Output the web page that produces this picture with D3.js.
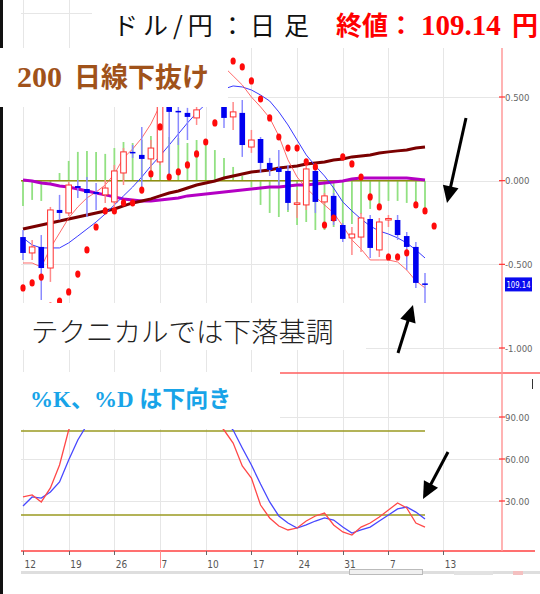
<!DOCTYPE html>
<html><head><meta charset="utf-8">
<script src="https://cdn.jsdelivr.net/npm/d3@7"></script>
<style>body{margin:0;background:#fff;} svg{display:block;}</style>
</head><body>
<svg id="c" width="540" height="594"></svg>
<script>
// ---------- data ----------
const tickIdx    = [0,5,10,15,20,25,30,35,40,46];
const tickLabels = ["12","19","26","7","10","17","24","31","7","13"];
const mainTicks  = [1,0.5,0,-0.5,-1];
const mainTickLabels = ["","0.500","0.000","-0.500","-1.000"];
const stochTicks = [90,60,30];
const stochTickLabels = ["90.00","60.00","30.00"];
const lastPriceLabel = "109.14";

const open  = [-0.337,-0.432,-0.396,-0.522,-0.175,-0.193,-0.032,-0.050,-0.068,-0.085,-0.127,0.046,0.172,0.154,0.130,0.112,0.482,0.417,0.405,0.375,0.482,0.572,0.494,0.381,0.405,0.201,0.249,0.106,0.076,0.058,-0.139,-0.145,0.058,-0.127,-0.091,-0.265,-0.342,-0.337,-0.229,-0.414,-0.232,-0.235,-0.331,-0.396,-0.614];
const high  = [-0.295,-0.354,-0.325,-0.157,-0.085,-0.008,0.004,0.022,-0.014,0.004,0.094,0.195,0.213,0.321,0.243,0.542,0.512,0.452,0.435,0.452,0.620,0.602,0.524,0.470,0.482,0.303,0.261,0.136,0.183,0.094,-0.056,0.094,0.094,-0.074,-0.074,-0.253,-0.277,-0.193,-0.205,-0.223,-0.205,-0.205,-0.307,-0.366,-0.552];
const low   = [-0.474,-0.474,-0.713,-0.605,-0.235,-0.211,-0.103,-0.217,-0.175,-0.133,-0.175,-0.026,0.136,-0.056,0.034,0.094,0.034,0.213,0.243,0.333,0.458,0.458,0.315,0.303,0.142,0.166,0.046,0.028,-0.026,-0.175,-0.223,-0.175,-0.193,-0.139,-0.265,-0.366,-0.444,-0.426,-0.462,-0.456,-0.277,-0.354,-0.534,-0.641,-0.731];
const close = [-0.432,-0.396,-0.522,-0.175,-0.193,-0.026,-0.044,-0.074,-0.079,-0.044,0.058,0.172,0.163,0.130,0.195,0.512,0.411,0.408,0.381,0.423,0.590,0.494,0.375,0.411,0.213,0.243,0.106,0.064,0.052,-0.133,-0.133,0.070,-0.127,-0.091,-0.241,-0.348,-0.319,-0.223,-0.402,-0.247,-0.226,-0.325,-0.396,-0.611,-0.620];

const maFast = [-0.492,-0.492,-0.516,-0.402,-0.313,-0.223,-0.157,-0.103,-0.068,-0.026,0.040,0.136,0.189,0.255,0.339,0.452,0.512,0.554,0.590,0.626,0.656,0.674,0.680,0.626,0.572,0.500,0.441,0.375,0.267,0.124,0.022,-0.044,-0.097,-0.145,-0.193,-0.271,-0.354,-0.408,-0.474,-0.474,-0.474,-0.486,-0.534,-0.599,-0.641];
const maSlow = [-0.342,-0.384,-0.402,-0.402,-0.402,-0.372,-0.331,-0.289,-0.247,-0.199,-0.145,-0.091,-0.038,0.022,0.088,0.148,0.213,0.279,0.345,0.405,0.458,0.512,0.548,0.566,0.560,0.542,0.512,0.476,0.411,0.333,0.243,0.154,0.088,0.028,-0.044,-0.127,-0.181,-0.229,-0.271,-0.301,-0.319,-0.342,-0.372,-0.414,-0.462];
const ma200  = [-0.289,-0.277,-0.265,-0.253,-0.241,-0.229,-0.217,-0.205,-0.193,-0.181,-0.169,-0.151,-0.133,-0.121,-0.109,-0.091,-0.074,-0.062,-0.044,-0.026,-0.014,-0.002,0.016,0.028,0.040,0.052,0.058,0.064,0.076,0.082,0.088,0.100,0.106,0.112,0.124,0.130,0.142,0.148,0.154,0.165,0.172,0.178,0.183,0.195,0.201];
const signal = [0.004,-0.002,-0.014,-0.020,-0.032,-0.038,-0.050,-0.062,-0.074,-0.085,-0.097,-0.109,-0.115,-0.121,-0.121,-0.115,-0.109,-0.103,-0.091,-0.085,-0.080,-0.074,-0.068,-0.062,-0.056,-0.050,-0.044,-0.038,-0.038,-0.032,-0.026,-0.026,-0.020,-0.014,-0.008,-0.002,0.010,0.016,0.016,0.016,0.016,0.016,0.016,0.010,0.004];
const hist   = [-0.151,-0.115,-0.121,-0.020,0.046,0.118,0.172,0.178,0.172,0.160,0.195,0.231,0.225,0.243,0.267,0.261,0.261,0.255,0.225,0.243,0.213,0.183,0.136,0.082,0.028,-0.038,-0.145,-0.193,-0.217,-0.187,-0.265,-0.247,-0.295,-0.295,-0.277,-0.295,-0.259,-0.199,-0.169,-0.157,-0.121,-0.121,-0.133,-0.139,-0.169];
const sar    = [-0.641,-0.611,-0.576,-0.749,-0.719,-0.665,-0.558,-0.414,-0.277,-0.181,-0.181,-0.133,-0.133,-0.056,0.040,0.321,0.022,0.052,0.094,0.160,0.231,0.345,0.494,0.715,0.680,0.596,0.488,0.375,0.261,0.195,0.195,0.112,0.082,-0.265,-0.223,0.142,0.100,0.022,-0.097,-0.157,-0.456,-0.456,-0.432,-0.145,-0.181,-0.271];

const stochK = [32.9,34.3,29.3,39.3,55.7,80.7,92,96,98,99,97,98,99,97,95,96,98,99,97,96,94,88,80.7,71.4,55.0,46.4,27.1,17.9,12.1,9.3,10.7,15.7,19.3,21.4,12.9,7.9,5.7,11.4,14.3,18.6,23.6,28.6,25.0,14.3,11.4];
const stochD = [26.4,32.9,32.1,36.4,43.6,59.3,73.6,84.3,90,94,96,97,97,97,97,96,96,96,97,97,96,94,88,80.7,67.9,55.7,42.1,29.3,19.3,14.3,10.7,12.9,15.7,17.9,16.4,11.4,7.1,9.3,11.4,15.7,20.0,24.3,25.7,22.1,17.1];

// ---------- scales ----------
const svg = d3.select("#c");
const x  = d3.scaleLinear().domain([0,44]).range([23,425]);
const y  = d3.scaleLinear().domain([-1,0.5]).range([348,97]);
const ys = d3.scaleLinear().domain([0,90]).range([543,417]);
const plotL = 21, plotR = 502, axisY = 551;
const idx = d3.range(open.length);

// left black edge
svg.append("rect").attr("x",0).attr("y",0).attr("width",3).attr("height",594).attr("fill","#111");

// ---------- grid ----------
const grid = svg.append("g").attr("stroke","#e6e6e6").attr("stroke-width",1);
grid.selectAll(".vg").data(tickIdx).join("line")
  .attr("x1",d=>Math.round(x(d))+0.5).attr("x2",d=>Math.round(x(d))+0.5)
  .attr("y1",0).attr("y2",axisY);
grid.selectAll(".hg").data(mainTicks).join("line")
  .attr("x1",plotL).attr("x2",plotR)
  .attr("y1",d=>Math.round(y(d))+0.5).attr("y2",d=>Math.round(y(d))+0.5);
grid.selectAll(".sg").data(stochTicks).join("line")
  .attr("x1",plotL).attr("x2",plotR)
  .attr("y1",d=>Math.round(ys(d))+0.5).attr("y2",d=>Math.round(ys(d))+0.5);

// ---------- main panel ----------
const main = svg.append("g");
main.selectAll(".hb").data(idx).join("line")
  .attr("x1",i=>x(i)).attr("x2",i=>x(i))
  .attr("y1",y(0)).attr("y2",i=>y(hist[i]))
  .attr("stroke","#92e182").attr("stroke-width",1.8);
main.append("line").attr("x1",plotL).attr("x2",x(44)).attr("y1",y(0)).attr("y2",y(0))
  .attr("stroke","#8f8f10").attr("stroke-width",1.5);
const line = arr => d3.line().x((d,i)=>x(i)).y(d=>y(d))(arr);
main.append("path").attr("d",line(signal)).attr("fill","none").attr("stroke","#b400c4").attr("stroke-width",3);
main.append("path").attr("d",line(ma200)).attr("fill","none").attr("stroke","#7a0000").attr("stroke-width",3);
main.append("path").attr("d",line(maSlow)).attr("fill","none").attr("stroke","#3a3aff").attr("stroke-width",1);
main.append("path").attr("d",line(maFast)).attr("fill","none").attr("stroke","#ff5050").attr("stroke-width",1).attr("opacity",0.85);

// candles
const bw = 5.6;
const cg = main.selectAll(".cd").data(idx).join("g");
cg.append("line")
  .attr("x1",i=>x(i)).attr("x2",i=>x(i))
  .attr("y1",i=>y(high[i])).attr("y2",i=>y(low[i]))
  .attr("stroke",i=>close[i]>=open[i]?"#ff8a8a":"#8a8aff").attr("stroke-width",1.5);
cg.append("rect")
  .attr("x",i=>x(i)-bw/2)
  .attr("y",i=>y(Math.max(open[i],close[i])))
  .attr("width",bw)
  .attr("height",i=>Math.max(1.5,Math.abs(y(open[i])-y(close[i]))))
  .attr("fill",i=>close[i]>=open[i]?"#fff":"#0000f0")
  .attr("stroke",i=>close[i]>=open[i]?"#ff3030":"none")
  .attr("stroke-width",1);

// SAR
main.selectAll(".sar").data(sar).join("ellipse")
  .attr("cx",(d,i)=>x(i)).attr("cy",d=>y(d))
  .attr("rx",2.6).attr("ry",3.6).attr("fill","#ff0a0a");

// ---------- stochastic panel ----------
const st = svg.append("g");
[80,20].forEach(v=>{
  st.append("line").attr("x1",plotL).attr("x2",x(44)).attr("y1",ys(v)).attr("y2",ys(v))
    .attr("stroke","#9a9a20").attr("stroke-width",1.5);
});
const sline = arr => d3.line().x((d,i)=>x(i)).y(d=>ys(d))(arr);
st.append("path").attr("d",sline(stochD)).attr("fill","none").attr("stroke","#4848ff").attr("stroke-width",1.3);
st.append("path").attr("d",sline(stochK)).attr("fill","none").attr("stroke","#ff4848").attr("stroke-width",1.3);

// separator + bottom axis + right axis
svg.append("line").attr("x1",plotL).attr("x2",540).attr("y1",373).attr("y2",373).attr("stroke","#ff5c5c").attr("stroke-width",1.5);
svg.append("line").attr("x1",plotL).attr("x2",535).attr("y1",axisY).attr("y2",axisY).attr("stroke","#ff7070").attr("stroke-width",2);
svg.append("line").attr("x1",plotR).attr("x2",plotR).attr("y1",48).attr("y2",axisY).attr("stroke","#ff9a9a").attr("stroke-width",1.5);

// ---------- white annotation boxes ----------
svg.append("rect").attr("x",92).attr("y",0).attr("width",448).attr("height",48).attr("fill","#fff");
svg.append("rect").attr("x",0).attr("y",48).attr("width",228).attr("height",59).attr("fill","#fff");
svg.append("rect").attr("x",5).attr("y",303).attr("width",361).attr("height",47).attr("fill","#fff");
svg.append("rect").attr("x",5).attr("y",372).attr("width",275).attr("height",57).attr("fill","#fff");

// ---------- axes labels ----------
const axf = "'DejaVu Sans Condensed','DejaVu Sans',sans-serif";
const xa = svg.append("g");
xa.selectAll(".xt").data(tickIdx).join("line")
  .attr("x1",d=>Math.round(x(d))+0.5).attr("x2",d=>Math.round(x(d))+0.5)
  .attr("y1",axisY).attr("y2",(d,i)=>i===3?568:555)
  .attr("stroke",(d,i)=>i===3?"#ff9090":"#666").attr("stroke-width",1);
xa.selectAll(".xl").data(tickIdx).join("text")
  .attr("x",d=>x(d)+1.5).attr("y",568)
  .attr("font-family",axf).attr("font-stretch","condensed").attr("font-size",10).attr("fill","#555")
  .text((d,i)=>tickLabels[i]);

const ya = svg.append("g");
const yItems = mainTicks.map((v,i)=>({p:y(v),t:mainTickLabels[i]})).filter(d=>d.t)
  .concat(stochTicks.map((v,i)=>({p:ys(v),t:stochTickLabels[i]})));
ya.selectAll(".yt").data(yItems).join("line")
  .attr("x1",499).attr("x2",505).attr("y1",d=>d.p).attr("y2",d=>d.p)
  .attr("stroke","#ff3030").attr("stroke-width",1.2);
ya.selectAll(".yl").data(yItems).join("text")
  .attr("x",505).attr("y",d=>d.p+3.5)
  .attr("font-family",axf).attr("font-stretch","condensed").attr("font-size",9.5).attr("fill","#666")
  .text(d=>d.t);
// last price tag
const lp = y(close[close.length-1]);
svg.append("rect").attr("x",505).attr("y",lp-7).attr("width",27).attr("height",14).attr("fill","#0a0af0");
svg.append("text").attr("x",506.5).attr("y",lp+3.5).attr("font-family",axf)
  .attr("font-size",9.5).attr("fill","#fff").attr("textLength",24).attr("lengthAdjust","spacingAndGlyphs")
  .text(lastPriceLabel);
svg.append("line").attr("x1",532.5).attr("x2",532.5).attr("y1",379).attr("y2",389).attr("stroke","#333");

// scrollbar
svg.append("rect").attr("x",21).attr("y",571).attr("width",519).attr("height",3).attr("fill","#dedede");
svg.append("rect").attr("x",349.5).attr("y",569.5).attr("width",73).attr("height",5).attr("fill","#f0f0f0").attr("stroke","#bbb");
svg.append("rect").attr("x",454).attr("y",571).attr("width",39).attr("height",4).attr("fill","#e2e2e2");
svg.append("rect").attr("x",513).attr("y",571).attr("width",10).attr("height",4).attr("fill","#f4c0c0");

// ---------- texts ----------
const cjk = "'Noto Sans CJK JP',sans-serif";
const serif = "'Liberation Serif',serif";
function t(str,xp,yp,fam,size,weight,fill,ls){
  const e = svg.append("text").attr("x",xp).attr("y",yp).attr("font-family",fam).attr("font-size",size)
    .attr("font-weight",weight).attr("fill",fill).text(str);
  if(ls) e.attr("letter-spacing",ls);
  return e;
}
// title
t("ドル/円",113,35,cjk,25,"normal","#111",5);
t("：",220,35,cjk,25,"normal","#111");
t("日",250,35,cjk,25,"normal","#111");
t("足",284,35,cjk,25,"normal","#111");
t("終値",336,35,cjk,26,"bold","#ff0000");
t("：",388,35,cjk,26,"bold","#ff0000");
t("109.14",421,35,serif,29,"bold","#ff0000");
t("円",512,35,cjk,26,"bold","#ff0000");
// badges
t("200",17,87,serif,30,"bold","#a0521a");
t("日線下抜け",74,87,cjk,27,"bold","#a0521a");
t("テクニカルでは下落基調",31,342,cjk,27.5,300,"#222");
t("%K、%D は下向き",30,407,"'Liberation Serif','Noto Sans CJK JP',serif",23,"bold","#18a4e8");

// ---------- arrows ----------
function arrow(x1,y1,x2,y2){
  const dx=x2-x1, dy=y2-y1, L=Math.hypot(dx,dy), ux=dx/L, uy=dy/L;
  const hl=17, hw=8;
  const bx=x2-ux*hl, by=y2-uy*hl;
  svg.append("line").attr("x1",x1).attr("y1",y1).attr("x2",bx+ux*2).attr("y2",by+uy*2)
    .attr("stroke","#000").attr("stroke-width",3);
  svg.append("polygon").attr("points",[[x2,y2],[bx-uy*hw,by+ux*hw],[bx+uy*hw,by-ux*hw]].map(p=>p.join(",")).join(" "))
    .attr("fill","#000");
}
arrow(466,118,447,203);
arrow(398,353,413,305);
arrow(448,452,423,499);
</script>
</body></html>
